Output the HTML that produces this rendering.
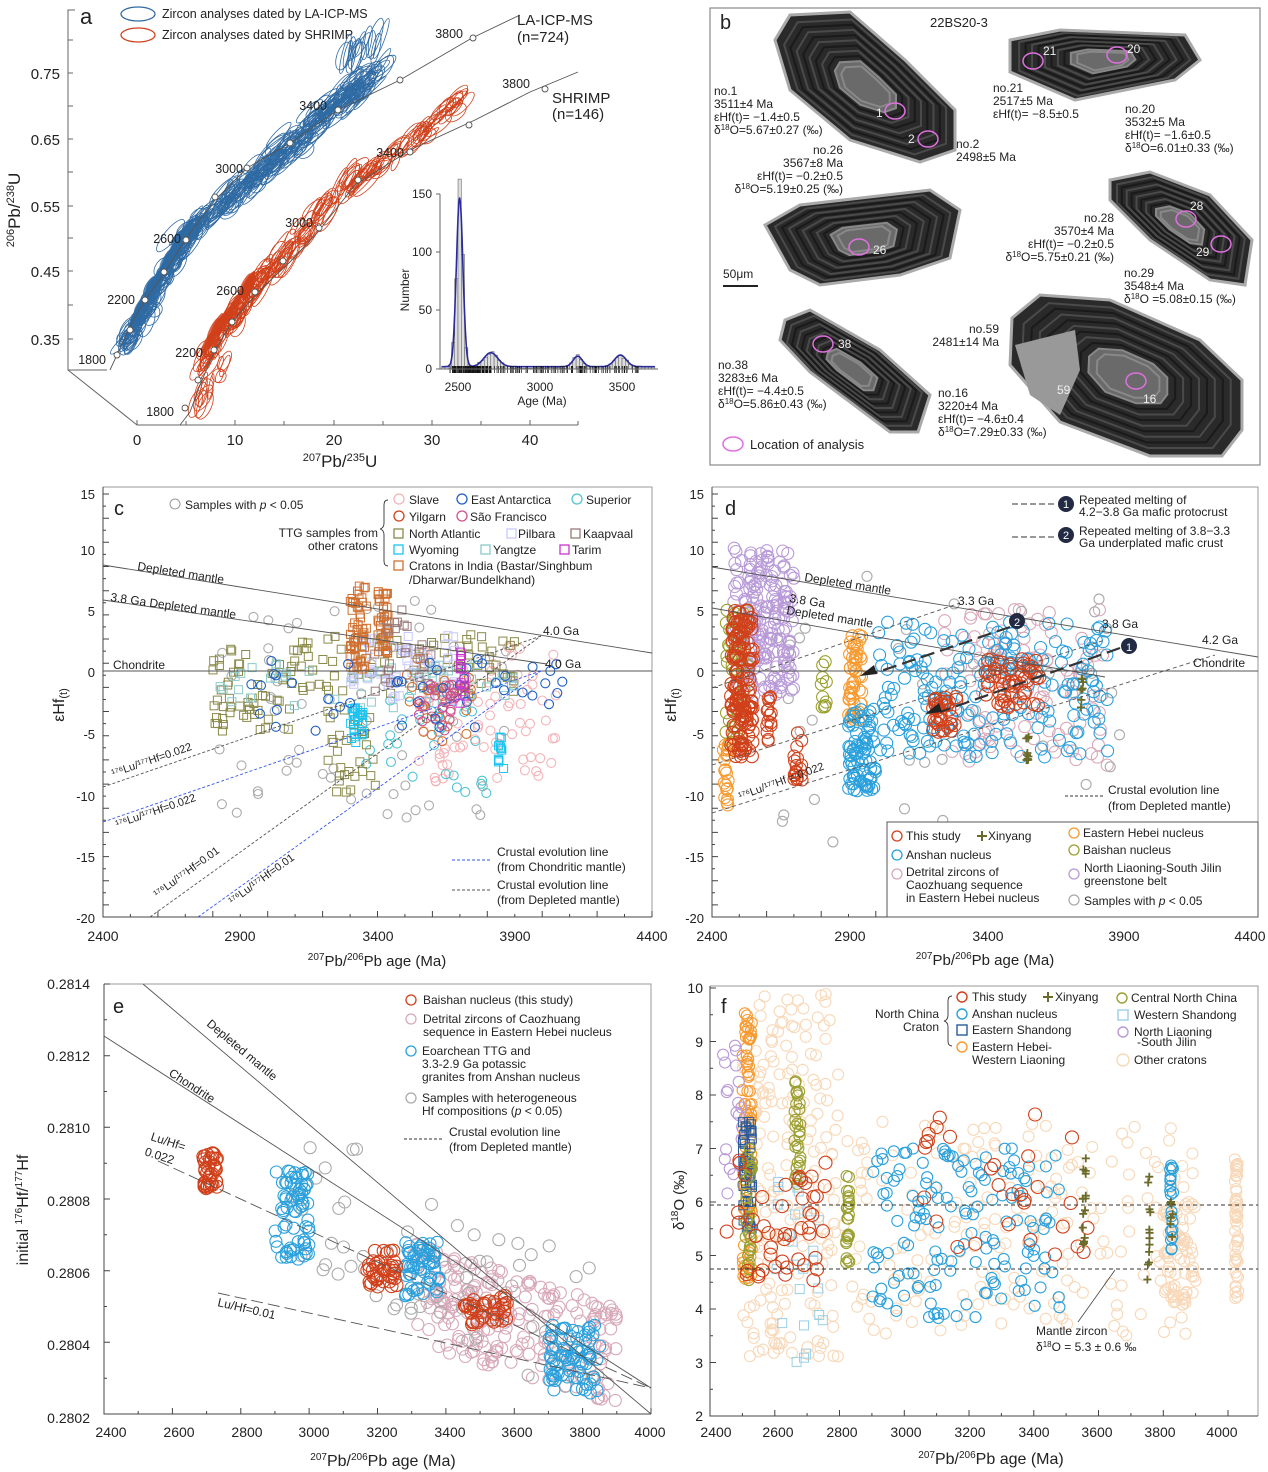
<!DOCTYPE html>
<html><head><meta charset="utf-8"><style>
html,body{margin:0;padding:0;background:#fff}
svg{display:block;font-family:"Liberation Sans",Arial,sans-serif}
</style></head><body>
<svg id="s" width="1268" height="1472" viewBox="0 0 1268 1472" xmlns="http://www.w3.org/2000/svg">
<g id="bg"></g>

<!-- ============ PANEL A ============ -->
<g fill="none" stroke="#666" stroke-width="1">
<path d="M75 10 H68 V370 H107 M68 370 L137 425 H578"/>
</g>
<g stroke="#666"><path d="M68 40h5M68 73h5M68 106h5M68 139h5M68 172h5M68 206h5M68 238h5M68 271h5M68 305h5M68 339h5M137 425v-5M186 425v-4M235 425v-5M284 425v-4M334 425v-5M383 425v-4M432 425v-5M481 425v-4M530 425v-5M578 425v-4"/></g>
<g font-size="15" fill="#222" text-anchor="end">
<text x="60" y="79">0.75</text><text x="60" y="145">0.65</text><text x="60" y="212">0.55</text><text x="60" y="277">0.45</text><text x="60" y="345">0.35</text></g>
<g font-size="15" fill="#222" text-anchor="middle">
<text x="137" y="445">0</text><text x="235" y="445">10</text><text x="334" y="445">20</text><text x="432" y="445">30</text><text x="530" y="445">40</text></g>
<text x="340" y="467" font-size="17" text-anchor="middle" fill="#222"><tspan font-size="11" dy="-6">207</tspan><tspan dy="6">Pb/</tspan><tspan font-size="11" dy="-6">235</tspan><tspan dy="6">U</tspan></text>
<text transform="translate(20 210) rotate(-90)" font-size="17" text-anchor="middle" fill="#222"><tspan font-size="11" dy="-6">206</tspan><tspan dy="6">Pb/</tspan><tspan font-size="11" dy="-6">238</tspan><tspan dy="6">U</tspan></text>
<text x="80" y="24" font-size="22" fill="#222">a</text>
<ellipse cx="138" cy="14" rx="17" ry="7" fill="none" stroke="#2f6aa3" stroke-width="1.3"/>
<ellipse cx="138" cy="35" rx="17" ry="7" fill="none" stroke="#d0401a" stroke-width="1.3"/>
<text x="162" y="18" font-size="12.5" fill="#222">Zircon analyses dated by LA-ICP-MS</text>
<text x="162" y="39" font-size="12.5" fill="#222">Zircon analyses dated by SHRIMP</text>
<g id="ga"></g>
<polyline fill="none" stroke="#555" stroke-width="0.9" points="110,370 117,355 128,330 145,300 165,272 185,240 215,200 247,168 290,143 338,110 400,80 472,38 520,15"/>
<polyline fill="none" stroke="#555" stroke-width="0.9" points="180,425 190,412 200,385 215,350 232,322 260,290 290,262 318,232 355,185 410,150 475,120 530,92 578,72"/>
<g fill="#fff" stroke="#555" stroke-width="0.9">
<circle cx="117" cy="355" r="3"/><circle cx="130" cy="330" r="3"/><circle cx="145" cy="300" r="3"/><circle cx="164" cy="272" r="3"/><circle cx="186" cy="240" r="3"/><circle cx="215" cy="197" r="3"/><circle cx="247" cy="168" r="3"/><circle cx="290" cy="143" r="3"/><circle cx="338" cy="110" r="3"/><circle cx="400" cy="80" r="3"/><circle cx="473" cy="38" r="3"/>
<circle cx="185" cy="408" r="3"/><circle cx="198" cy="380" r="3"/><circle cx="214" cy="350" r="3"/><circle cx="232" cy="322" r="3"/><circle cx="255" cy="292" r="3"/><circle cx="283" cy="261" r="3"/><circle cx="319" cy="228" r="3"/><circle cx="358" cy="180" r="3"/><circle cx="410" cy="152" r="3"/><circle cx="469" cy="125" r="3"/><circle cx="545" cy="89" r="3"/></g>
<g font-size="12.5" fill="#222" text-anchor="end">
<text x="106" y="364">1800</text><text x="135" y="304">2200</text><text x="181" y="243">2600</text><text x="243" y="173">3000</text><text x="327" y="110">3400</text><text x="463" y="38">3800</text>
<text x="174" y="416">1800</text><text x="203" y="357">2200</text><text x="244" y="295">2600</text><text x="313" y="227">3000</text><text x="404" y="157">3400</text><text x="530" y="88">3800</text></g>
<g font-size="15" fill="#222"><text x="517" y="25">LA-ICP-MS</text><text x="517" y="42">(n=724)</text><text x="552" y="103">SHRIMP</text><text x="552" y="119">(n=146)</text></g>
<!-- inset histogram -->
<g id="hist"></g>
<path d="M440 194 V369 H658" fill="none" stroke="#666"/>
<g stroke="#666"><path d="M440 194h-4M440 252h-4M440 310h-4M440 369h-4M458 369v4M540 369v4M622 369v4"/></g>
<g font-size="12" fill="#222" text-anchor="end"><text x="432" y="198">150</text><text x="432" y="256">100</text><text x="432" y="314">50</text><text x="432" y="373">0</text></g>
<g font-size="12" fill="#222" text-anchor="middle"><text x="458" y="391">2500</text><text x="540" y="391">3000</text><text x="622" y="391">3500</text><text x="542" y="405">Age (Ma)</text></g>
<text transform="translate(409 290) rotate(-90)" font-size="12" text-anchor="middle" fill="#222">Number</text>

<!-- ============ PANEL B ============ -->
<rect x="710" y="8" width="550" height="457" fill="#fff" stroke="#888" stroke-width="1.2"/>
<g id="zir"></g>
<g font-size="12" fill="#222">
<text x="720" y="29" font-size="20">b</text>
<text x="930" y="27" font-size="13">22BS20-3</text>
<text x="714" y="95">no.1</text><text x="714" y="108">3511±4 Ma</text><text x="714" y="121">εHf(t)= −1.4±0.5</text><text x="714" y="134">δ<tspan font-size="8" dy="-4">18</tspan><tspan dy="4">O=5.67±0.27 (‰)</tspan></text>
<text x="993" y="92">no.21</text><text x="993" y="105">2517±5 Ma</text><text x="993" y="118">εHf(t)= −8.5±0.5</text>
<text x="1125" y="113">no.20</text><text x="1125" y="126">3532±5 Ma</text><text x="1125" y="139">εHf(t)= −1.6±0.5</text><text x="1125" y="152">δ<tspan font-size="8" dy="-4">18</tspan><tspan dy="4">O=6.01±0.33 (‰)</tspan></text>
<text x="956" y="148">no.2</text><text x="956" y="161">2498±5 Ma</text>
<g text-anchor="end"><text x="843" y="154">no.26</text><text x="843" y="167">3567±8 Ma</text><text x="843" y="180">εHf(t)= −0.2±0.5</text><text x="843" y="193">δ<tspan font-size="8" dy="-4">18</tspan><tspan dy="4">O=5.19±0.25 (‰)</tspan></text>
<text x="1114" y="222">no.28</text><text x="1114" y="235">3570±4 Ma</text><text x="1114" y="248">εHf(t)= −0.2±0.5</text><text x="1114" y="261">δ<tspan font-size="8" dy="-4">18</tspan><tspan dy="4">O=5.75±0.21 (‰)</tspan></text>
<text x="999" y="333">no.59</text><text x="999" y="346">2481±14 Ma</text></g>
<text x="1124" y="277">no.29</text><text x="1124" y="290">3548±4 Ma</text><text x="1124" y="303">δ<tspan font-size="8" dy="-4">18</tspan><tspan dy="4">O =5.08±0.15 (‰)</tspan></text>
<text x="718" y="369">no.38</text><text x="718" y="382">3283±6 Ma</text><text x="718" y="395">εHf(t)= −4.4±0.5</text><text x="718" y="408">δ<tspan font-size="8" dy="-4">18</tspan><tspan dy="4">O=5.86±0.43 (‰)</tspan></text>
<text x="938" y="397">no.16</text><text x="938" y="410">3220±4 Ma</text><text x="938" y="423">εHf(t)= −4.6±0.4</text><text x="938" y="436">δ<tspan font-size="8" dy="-4">18</tspan><tspan dy="4">O=7.29±0.33 (‰)</tspan></text>
<text x="723" y="278">50μm</text>
<text x="750" y="449" font-size="13">Location of analysis</text>
</g>
<line x1="723" y1="286" x2="758" y2="286" stroke="#222" stroke-width="2"/>
<ellipse cx="733" cy="444" rx="10" ry="7" fill="none" stroke="#e070e0" stroke-width="1.5"/>

<!-- ============ PANELS C-F scatter layers ============ -->
<g id="gc"></g><g id="gd"></g><g id="ge"></g><g id="gf"></g>

<!-- frames -->
<g fill="none" stroke="#999" stroke-width="1"><path d="M103 487 H652 V917"/><path d="M712 487 H1258 V917"/><path d="M104 984 H651 V1414"/><path d="M710 986 H1258 V1416"/></g>
<g fill="none" stroke="#444" stroke-width="1"><path d="M103 487 V917 H652"/><path d="M712 487 V917 H1258"/><path d="M104 984 V1414 H651"/><path d="M710 986 V1416 H1258"/></g>
<g id="ticks" stroke="#444" stroke-width="1"></g>

<!-- panel C text/lines -->
<g fill="none" stroke="#555" stroke-width="0.9">
<line x1="103" y1="565" x2="652" y2="653"/><line x1="103" y1="600" x2="547" y2="664"/><line x1="103" y1="671" x2="652" y2="671"/>
<line x1="103" y1="787" x2="541" y2="636" stroke-dasharray="3 2"/><line x1="150" y1="917" x2="541" y2="636" stroke-dasharray="3 2"/>
<line x1="103" y1="822" x2="541" y2="671" stroke="#3355ee" stroke-dasharray="3 2"/><line x1="198" y1="917" x2="541" y2="671" stroke="#3355ee" stroke-dasharray="3 2"/></g>
<g font-size="13" fill="#222" text-anchor="end"><text x="95" y="499">15</text><text x="95" y="555">10</text><text x="95" y="616">5</text><text x="95" y="677">0</text><text x="95" y="739">-5</text><text x="95" y="801">-10</text><text x="95" y="862">-15</text><text x="95" y="923">-20</text></g>
<g font-size="14" fill="#222" text-anchor="middle"><text x="103" y="941">2400</text><text x="240" y="941">2900</text><text x="378" y="941">3400</text><text x="515" y="941">3900</text><text x="652" y="941">4400</text></g>
<text x="377" y="966" font-size="15" text-anchor="middle" fill="#222"><tspan font-size="10" dy="-6">207</tspan><tspan dy="6">Pb/</tspan><tspan font-size="10" dy="-6">206</tspan><tspan dy="6">Pb age (Ma)</tspan></text>
<text transform="translate(64 705) rotate(-90)" font-size="16" text-anchor="middle" fill="#222">εHf<tspan font-size="11" dy="3">(t)</tspan></text>
<g font-size="12" fill="#222">
<text x="114" y="515" font-size="20">c</text>
<circle cx="175" cy="504" r="5" fill="none" stroke="#999"/><text x="185" y="509">Samples with <tspan font-style="italic">p</tspan> &lt; 0.05</text>
<text x="378" y="537" text-anchor="end">TTG samples from</text><text x="378" y="550" text-anchor="end">other cratons</text>
<text x="409" y="504">Slave</text><text x="471" y="504">East Antarctica</text><text x="586" y="504">Superior</text>
<text x="409" y="521">Yilgarn</text><text x="470" y="521">São Francisco</text>
<text x="409" y="538">North Atlantic</text><text x="518" y="538">Pilbara</text><text x="583" y="538">Kaapvaal</text>
<text x="409" y="554">Wyoming</text><text x="493" y="554">Yangtze</text><text x="572" y="554">Tarim</text>
<text x="409" y="570">Cratons in India (Bastar/Singhbum</text><text x="409" y="584">/Dharwar/Bundelkhand)</text>
<text x="113" y="669">Chondrite</text><text x="543" y="635">4.0 Ga</text><text x="545" y="668">4.0 Ga</text>
<text x="137" y="570" transform="rotate(9 137 570)">Depleted mantle</text>
<text x="110" y="601" transform="rotate(8 110 601)">3.8 Ga Depleted mantle</text>
<text x="113" y="777" font-size="11" transform="rotate(-19 113 777)">¹⁷⁶Lu/¹⁷⁷Hf=0.022</text>
<text x="117" y="828" font-size="11" transform="rotate(-19 117 828)">¹⁷⁶Lu/¹⁷⁷Hf=0.022</text>
<text x="157" y="898" font-size="11" transform="rotate(-36 157 898)">¹⁷⁶Lu/¹⁷⁷Hf=0.01</text>
<text x="232" y="905" font-size="11" transform="rotate(-36 232 905)">¹⁷⁶Lu/¹⁷⁷Hf=0.01</text>
<text x="497" y="856">Crustal evolution line</text><text x="497" y="871">(from Chondritic mantle)</text>
<text x="497" y="889">Crustal evolution line</text><text x="497" y="904">(from Depleted mantle)</text>
</g>
<line x1="452" y1="860" x2="490" y2="860" stroke="#3355ee" stroke-dasharray="3 2"/><line x1="452" y1="890" x2="490" y2="890" stroke="#555" stroke-dasharray="3 2"/>
<path d="M388 500 q-4 0 -4 5 v18 q0 5 -4 6 q4 1 4 6 v26 q0 5 4 5" fill="none" stroke="#333" stroke-width="0.9"/>
<g fill="none" stroke-width="1.3">
<circle cx="399" cy="499" r="5" stroke="#f4b3b8"/><circle cx="462" cy="499" r="5" stroke="#1f5fc4"/><circle cx="577" cy="499" r="5" stroke="#4fc3d4"/>
<circle cx="399" cy="516" r="5" stroke="#d0401a"/><circle cx="462" cy="516" r="5" stroke="#d0508a"/>
<rect x="394" y="529" width="9" height="9" stroke="#8a8a4a"/><rect x="507" y="529" width="9" height="9" stroke="#c8c8ff"/><rect x="571" y="529" width="9" height="9" stroke="#9a7a7a"/>
<rect x="394" y="545" width="9" height="9" stroke="#1cc4f0"/><rect x="481" y="545" width="9" height="9" stroke="#8ccaca"/><rect x="560" y="545" width="9" height="9" stroke="#cc33cc"/>
<rect x="394" y="561" width="9" height="9" stroke="#d07030"/></g>

<!-- panel D text/lines -->
<g fill="none" stroke="#555" stroke-width="0.9">
<line x1="712" y1="567" x2="1258" y2="657"/><line x1="712" y1="608" x2="1105" y2="677"/><line x1="712" y1="671" x2="1258" y2="671"/>
<g stroke-dasharray="4 3"><line x1="712" y1="688" x2="960" y2="603"/><line x1="712" y1="765" x2="1105" y2="640"/><line x1="712" y1="813" x2="1215" y2="655"/></g>
<g stroke="#333" stroke-width="2.2" stroke-dasharray="14 6"><line x1="1120" y1="648" x2="940" y2="712"/><line x1="1010" y1="627" x2="875" y2="673"/></g></g>
<path d="M925 714 l14 -11 l3 9 z M860 676 l14 -11 l3 9 z" fill="#222"/>
<circle cx="1129" cy="646" r="8" fill="#222a44"/><text x="1129" y="651" font-size="11" fill="#fff" text-anchor="middle">1</text>
<circle cx="1017" cy="621" r="8" fill="#222a44"/><text x="1017" y="626" font-size="11" fill="#fff" text-anchor="middle">2</text>
<g font-size="13" fill="#222" text-anchor="end"><text x="704" y="499">15</text><text x="704" y="555">10</text><text x="704" y="616">5</text><text x="704" y="677">0</text><text x="704" y="739">-5</text><text x="704" y="801">-10</text><text x="704" y="862">-15</text><text x="704" y="923">-20</text></g>
<g font-size="14" fill="#222" text-anchor="middle"><text x="712" y="941">2400</text><text x="850" y="941">2900</text><text x="988" y="941">3400</text><text x="1124" y="941">3900</text><text x="1250" y="941">4400</text></g>
<text x="985" y="965" font-size="15" text-anchor="middle" fill="#222"><tspan font-size="10" dy="-6">207</tspan><tspan dy="6">Pb/</tspan><tspan font-size="10" dy="-6">206</tspan><tspan dy="6">Pb age (Ma)</tspan></text>
<text transform="translate(676 705) rotate(-90)" font-size="16" text-anchor="middle" fill="#222">εHf<tspan font-size="11" dy="3">(t)</tspan></text>
<g font-size="12" fill="#222">
<text x="725" y="515" font-size="20">d</text>
<line x1="1012" y1="504" x2="1055" y2="504" stroke="#333" stroke-dasharray="6 3"/><line x1="1012" y1="537" x2="1055" y2="537" stroke="#333" stroke-dasharray="6 3"/>
<circle cx="1066" cy="504" r="8" fill="#222a44"/><text x="1066" y="508" fill="#fff" text-anchor="middle" font-size="11">1</text>
<circle cx="1066" cy="535" r="8" fill="#222a44"/><text x="1066" y="539" fill="#fff" text-anchor="middle" font-size="11">2</text>
<text x="1079" y="504">Repeated melting of</text><text x="1079" y="516">4.2−3.8 Ga mafic protocrust</text>
<text x="1079" y="535">Repeated melting of 3.8−3.3</text><text x="1079" y="547">Ga underplated mafic crust</text>
<text x="804" y="581" transform="rotate(9 804 581)">Depleted mantle</text>
<text x="789" y="602" transform="rotate(9 789 602)">3.8 Ga</text><text x="786" y="614" transform="rotate(9 786 614)">Depleted mantle</text>
<text x="958" y="605">3.3 Ga</text><text x="1102" y="628">3.8 Ga</text><text x="1202" y="644">4.2 Ga</text><text x="1193" y="667">Chondrite</text>
<text x="740" y="800" font-size="11" transform="rotate(-20 740 800)">¹⁷⁶Lu/¹⁷⁷Hf = 0.022</text>
<line x1="1065" y1="796" x2="1103" y2="796" stroke="#333" stroke-dasharray="3 2"/>
<text x="1108" y="794">Crustal evolution line</text><text x="1108" y="810">(from Depleted mantle)</text>
</g>
<rect x="887" y="822" width="371" height="95" fill="#fff" stroke="#555"/>
<g font-size="12" fill="#222">
<text x="906" y="840">This study</text><text x="988" y="840">Xinyang</text><text x="1083" y="837">Eastern Hebei nucleus</text>
<text x="906" y="859">Anshan nucleus</text><text x="1083" y="854">Baishan nucleus</text>
<text x="906" y="876">Detrital zircons of</text><text x="906" y="889">Caozhuang sequence</text><text x="906" y="902">in Eastern Hebei nucleus</text>
<text x="1084" y="872">North Liaoning-South Jilin</text><text x="1084" y="885">greenstone belt</text><text x="1084" y="905">Samples with <tspan font-style="italic">p</tspan> &lt; 0.05</text></g>
<g fill="none" stroke-width="1.3"><circle cx="897" cy="836" r="5" stroke="#d0401a"/><circle cx="897" cy="855" r="5" stroke="#2aa0dc"/><circle cx="897" cy="874" r="5" stroke="#d8a8b8"/>
<circle cx="1074" cy="833" r="5" stroke="#f79a30"/><circle cx="1074" cy="850" r="5" stroke="#9aa030"/><circle cx="1074" cy="874" r="5" stroke="#b89ad8"/><circle cx="1074" cy="900" r="5" stroke="#aaa"/>
<path d="M977 836h10M982 831v10" stroke="#6a6a2a" stroke-width="2"/></g>

<!-- panel E -->
<g fill="none" stroke="#555" stroke-width="0.9">
<line x1="143" y1="984" x2="651" y2="1414"/><line x1="104" y1="1036" x2="651" y2="1388"/>
<line x1="158" y1="1161" x2="651" y2="1388" stroke-dasharray="12 5"/><line x1="218" y1="1293" x2="651" y2="1388" stroke-dasharray="12 5"/></g>
<g font-size="14" fill="#222" text-anchor="end"><text x="90" y="989">0.2814</text><text x="90" y="1061">0.2812</text><text x="90" y="1133">0.2810</text><text x="90" y="1206">0.2808</text><text x="90" y="1278">0.2806</text><text x="90" y="1350">0.2804</text><text x="90" y="1423">0.2802</text></g>
<g font-size="14" fill="#222" text-anchor="middle"><text x="111" y="1437">2400</text><text x="179" y="1437">2600</text><text x="247" y="1437">2800</text><text x="314" y="1437">3000</text><text x="382" y="1437">3200</text><text x="450" y="1437">3400</text><text x="517" y="1437">3600</text><text x="585" y="1437">3800</text><text x="650" y="1437">4000</text></g>
<text x="383" y="1466" font-size="16" text-anchor="middle" fill="#222"><tspan font-size="10" dy="-6">207</tspan><tspan dy="6">Pb/</tspan><tspan font-size="10" dy="-6">206</tspan><tspan dy="6">Pb age (Ma)</tspan></text>
<text transform="translate(28 1210) rotate(-90)" font-size="16" text-anchor="middle" fill="#222">initial <tspan font-size="10" dy="-6">176</tspan><tspan dy="6">Hf/</tspan><tspan font-size="10" dy="-6">177</tspan><tspan dy="6">Hf</tspan></text>
<g font-size="12" fill="#222">
<text x="113" y="1013" font-size="20">e</text>
<text x="206" y="1025" transform="rotate(40 206 1025)">Depleted mantle</text>
<text x="168" y="1075" transform="rotate(33 168 1075)">Chondrite</text>
<text x="150" y="1140" transform="rotate(18 150 1140)">Lu/Hf=</text><text x="144" y="1155" transform="rotate(18 144 1155)">0.022</text>
<text x="217" y="1306" transform="rotate(13 217 1306)">Lu/Hf=0.01</text>
<text x="423" y="1004">Baishan nucleus (this study)</text>
<text x="423" y="1023">Detrital zircons of Caozhuang</text><text x="423" y="1036">sequence in Eastern Hebei nucleus</text>
<text x="422" y="1055">Eoarchean TTG and</text><text x="422" y="1068">3.3-2.9 Ga potassic</text><text x="422" y="1081">granites from Anshan nucleus</text>
<text x="422" y="1102">Samples with heterogeneous</text><text x="422" y="1115">Hf compositions (<tspan font-style="italic">p</tspan> &lt; 0.05)</text>
<text x="449" y="1136">Crustal evolution line</text><text x="449" y="1151">(from Depleted mantle)</text></g>
<line x1="404" y1="1139" x2="443" y2="1139" stroke="#333" stroke-dasharray="3 2"/>
<g fill="none" stroke-width="1.3"><circle cx="411" cy="1000" r="5" stroke="#d0401a"/><circle cx="411" cy="1019" r="5" stroke="#d8a8b8"/><circle cx="411" cy="1051" r="5" stroke="#2aa0dc"/><circle cx="411" cy="1098" r="5" stroke="#aaa"/></g>

<!-- panel F -->
<g stroke="#333" stroke-dasharray="4 3" stroke-width="0.9"><line x1="710" y1="1205" x2="1258" y2="1205"/><line x1="710" y1="1269" x2="1258" y2="1269"/></g>
<line x1="1115" y1="1270" x2="1078" y2="1322" stroke="#444" stroke-width="0.8"/>
<g font-size="14" fill="#222" text-anchor="end"><text x="703" y="993">10</text><text x="703" y="1047">9</text><text x="703" y="1100">8</text><text x="703" y="1154">7</text><text x="703" y="1207">6</text><text x="703" y="1261">5</text><text x="703" y="1314">4</text><text x="703" y="1368">3</text><text x="703" y="1421">2</text></g>
<g font-size="14" fill="#222" text-anchor="middle"><text x="716" y="1437">2400</text><text x="778" y="1437">2600</text><text x="842" y="1437">2800</text><text x="906" y="1437">3000</text><text x="970" y="1437">3200</text><text x="1034" y="1437">3400</text><text x="1097" y="1437">3600</text><text x="1160" y="1437">3800</text><text x="1222" y="1437">4000</text></g>
<text x="991" y="1464" font-size="16" text-anchor="middle" fill="#222"><tspan font-size="10" dy="-6">207</tspan><tspan dy="6">Pb/</tspan><tspan font-size="10" dy="-6">206</tspan><tspan dy="6">Pb age (Ma)</tspan></text>
<text transform="translate(684 1200) rotate(-90)" font-size="15" text-anchor="middle" fill="#222">δ<tspan font-size="10" dy="-6">18</tspan><tspan dy="6">O (‰)</tspan></text>
<g font-size="12" fill="#222">
<text x="721" y="1013" font-size="20">f</text>
<text x="939" y="1018" text-anchor="end">North China</text><text x="939" y="1031" text-anchor="end">Craton</text>
<text x="972" y="1001">This study</text><text x="1055" y="1001">Xinyang</text><text x="1131" y="1002">Central North China</text>
<text x="972" y="1018">Anshan nucleus</text><text x="1134" y="1019">Western Shandong</text>
<text x="972" y="1034">Eastern Shandong</text><text x="1134" y="1036">North Liaoning</text><text x="1137" y="1046">-South Jilin</text>
<text x="972" y="1051">Eastern Hebei-</text><text x="972" y="1064">Western Liaoning</text><text x="1134" y="1064">Other cratons</text>
<text x="1036" y="1335">Mantle zircon</text><text x="1036" y="1351">δ<tspan font-size="8" dy="-4">18</tspan><tspan dy="4">O = 5.3 ± 0.6 ‰</tspan></text></g>
<path d="M952 996 q-4 0 -4 5 v14 q0 5 -4 6 q4 1 4 6 v14 q0 5 4 5" fill="none" stroke="#333" stroke-width="0.9"/>
<g fill="none" stroke-width="1.4"><circle cx="962" cy="997" r="5" stroke="#d0401a"/><circle cx="962" cy="1014" r="5" stroke="#2aa0dc"/><rect x="957" y="1025" width="10" height="10" stroke="#2a5a9a"/><circle cx="962" cy="1047" r="5" stroke="#f79a30"/>
<circle cx="1122" cy="998" r="5" stroke="#9aa030"/><rect x="1118" y="1010" width="10" height="10" stroke="#9ad0e8"/><circle cx="1123" cy="1032" r="5" stroke="#b89ad8"/><circle cx="1123" cy="1060" r="6" stroke="#f8d8b8"/>
<path d="M1043 997h10M1048 992v10" stroke="#6a6a2a" stroke-width="2"/></g>
</svg>
<script>
(function(){
var NS="http://www.w3.org/2000/svg";
var seed=12345;function R(){seed=(seed*16807)%2147483647;return (seed-1)/2147483646;}
function N(){return (R()+R()+R()-1.5)/0.866;}
function el(p,t,a){var e=document.createElementNS(NS,t);for(var k in a)e.setAttribute(k,a[k]);p.appendChild(e);return e;}
var $=function(i){return document.getElementById(i);};
var tk=$("ticks"),d="";
function tx(x0,x1,n,y){for(var i=0;i<=n;i++){var x=x0+(x1-x0)*i/n;d+="M"+x.toFixed(1)+" "+y+"v"+(i%2?-3:-6);}}
function ty(y0,y1,n,x){for(var i=0;i<=n;i++){var y=y0+(y1-y0)*i/n;d+="M"+x+" "+y.toFixed(1)+"h"+(i%2?3:6);}}
tx(103,652,20,917);ty(494,917,35,103);tx(712,1258,20,917);ty(494,917,35,712);
tx(104,651,16,1414);ty(984,1414,12,104);tx(710,1228,16,1416);ty(988,1416,16,710);
el(tk,"path",{d:d,fill:"none"});
// panel a ellipses
var ga=$("ga");
function ells(n,x0,y0,x1,y1,col,spread,rmin,rmax,ang){for(var i=0;i<n;i++){var t=R();var x=x0+(x1-x0)*t+N()*spread,y=y0+(y1-y0)*t+N()*spread*0.6;
el(ga,"ellipse",{cx:x.toFixed(1),cy:y.toFixed(1),rx:(rmin+R()*(rmax-rmin)).toFixed(1),ry:(2+R()*5).toFixed(1),transform:"rotate("+(ang+N()*12).toFixed(0)+" "+x.toFixed(1)+" "+y.toFixed(1)+")",fill:"none",stroke:col,"stroke-width":0.8});}}
for(var i=0;i<60;i++){var x=135+R()*50,y=320-(x-135)*1.75+N()*6;el(ga,"ellipse",{cx:x,cy:y,rx:9,ry:4,transform:"rotate(-58 "+x+" "+y+")",fill:"#2f6aa3",opacity:0.75});}
ells(140,125,345,195,225,"#2f6aa3",6,6,16,-58);
ells(70,180,240,250,180,"#2f6aa3",10,8,22,-50);
ells(160,245,185,375,70,"#2f6aa3",12,8,26,-45);
ells(15,340,60,380,40,"#2f6aa3",8,10,22,-75);
for(var i=0;i<25;i++){var x=205+R()*45,y=345-(x-205)*1.4+N()*6;el(ga,"ellipse",{cx:x,cy:y,rx:12,ry:3,transform:"rotate(-62 "+x+" "+y+")",fill:"#d0401a",opacity:0.8});}
ells(70,200,370,265,270,"#d0401a",6,8,18,-62);
ells(60,255,290,350,180,"#d0401a",10,8,22,-57);
ells(60,350,185,470,95,"#d0401a",8,8,20,-48);
ells(14,185,430,225,360,"#d0401a",6,6,16,-68);
// histogram
var h=$("hist");function ax(a){return 458+(a-2500)*0.164;}
function dens(a){return 145*Math.exp(-Math.pow((a-2510)/28,2))+12*Math.exp(-Math.pow((a-2700)/60,2))+9*Math.exp(-Math.pow((a-3230)/40,2))+10*Math.exp(-Math.pow((a-3490)/50,2))+2;}
for(var a=2400;a<3700;a+=20){var v=dens(a+10)*(0.85+R()*0.3);if(a>2800&&a<3150)v=R()<0.3?2:0.5;var hh=v*175/150;el(h,"rect",{x:ax(a),y:369-hh,width:3.3,height:hh,fill:"#ddd",stroke:"#555","stroke-width":0.5});}
var pts=[];for(var a=2400;a<=3700;a+=5)pts.push(ax(a).toFixed(1)+","+(369-dens(a)*175/150).toFixed(1));
el(h,"polyline",{points:pts.join(" "),fill:"none",stroke:"#2a2a9a","stroke-width":1.6});
for(var i=0;i<220;i++){var a=R()<0.6?2450+R()*250:2700+R()*900;el(h,"line",{x1:ax(a),x2:ax(a),y1:366,y2:373,stroke:"#111","stroke-width":0.7});}
// zircons
var z=$("zir");
var grains=[["790,15 850,12 905,60 955,110 955,150 920,162 850,140 790,90 775,40",[["895","111"],["928","139"]]],
["1010,40 1060,30 1185,35 1200,60 1175,80 1075,100 1010,72",[["1033","61"],["1117","55"]]],
["765,225 800,205 930,190 960,210 950,258 900,275 820,285 790,270",[["859","247"]]],
["1110,180 1150,172 1210,195 1252,240 1245,285 1210,280 1150,240 1110,200",[["1186","219"],["1221","244"]]],
["785,320 810,310 880,350 930,395 918,432 890,432 810,372 780,340",[["823","344"]]],
["1012,318 1040,295 1110,300 1200,340 1242,380 1242,430 1222,456 1150,456 1060,422 1010,365",[["1045","376"],["1136","381"]]]];
grains.forEach(function(g){var p=g[0].split(" ").map(function(s){return s.split(",").map(Number);});
var cx=0,cy=0;p.forEach(function(q){cx+=q[0];cy+=q[1];});cx/=p.length;cy/=p.length;
el(z,"polygon",{points:g[0],fill:"#2a2a2a",stroke:"#aaa","stroke-width":3});
for(var s=0.9;s>0.2;s-=0.07){el(z,"polygon",{points:p.map(function(q){return (cx+(q[0]-cx)*s).toFixed(1)+","+(cy+(q[1]-cy)*s).toFixed(1);}).join(" "),fill:s<0.35?"#6a6a6a":"none",stroke:s<0.35?"#888":(Math.round(s*14)%2?"#4a4a4a":"#1a1a1a"),"stroke-width":2});}
g[1].forEach(function(c){el(z,"ellipse",{cx:c[0],cy:c[1],rx:10,ry:8,fill:"none",stroke:"#e070e0","stroke-width":1.5});});});
el(z,"polygon",{points:"1015,345 1075,330 1080,370 1060,415 1030,395",fill:"#999"});
[["876,117","1"],["908,143","2"],["1043,55","21"],["1127,53","20"],["873,254","26"],["1190,210","28"],["1196,256","29"],["838,348","38"],["1057,394","59"],["1143,403","16"]].forEach(function(l){var q=l[0].split(",");var t=el(z,"text",{x:q[0],y:q[1],"font-size":12,fill:"#eee"});t.textContent=l[1];});
function sc(g,X,Y,n,a0,a1,v0,v1,col,shape,r,vm){for(var i=0;i<n;i++){var a=a0+(a1-a0)*R();var v=vm?vm(a):0;v+=v0+(v1-v0)*R();var x=X(a),y=Y(v);
if(shape=="c")el(g,"circle",{cx:x.toFixed(1),cy:y.toFixed(1),r:r,fill:"none",stroke:col,"stroke-width":1.1});
else if(shape=="s")el(g,"rect",{x:(x-r).toFixed(1),y:(y-r).toFixed(1),width:2*r,height:2*r,fill:"none",stroke:col,"stroke-width":1});
else el(g,"path",{d:"M"+(x-4).toFixed(1)+" "+y.toFixed(1)+"h8M"+x.toFixed(1)+" "+(y-4).toFixed(1)+"v8",stroke:col,"stroke-width":1.8});}}
// panel c
var gc=$("gc"),XC=function(a){return 103+(a-2400)*0.2745;},YE=function(e){return 671-e*12.3;};
sc(gc,XC,YE,70,2800,3900,-12,6,"#aaa","c",4.5);
sc(gc,XC,YE,80,3550,4050,-9,2,"#f4b3b8","c",4.5);
sc(gc,XC,YE,30,3350,3800,-10,-2,"#4fc3d4","c",4.5);
sc(gc,XC,YE,55,2800,3100,-5,2,"#8a8a4a","s",4);
sc(gc,XC,YE,30,3200,3420,-10,-3,"#8a8a4a","s",4);
sc(gc,XC,YE,80,3100,3900,-2,3,"#8a8a4a","s",4);
sc(gc,XC,YE,60,3300,3700,-3,3,"#c8c8ff","s",4);
sc(gc,XC,YE,50,2800,3900,-3,1,"#8ccaca","s",4);
sc(gc,XC,YE,55,3300,3360,0,7,"#d07030","s",4);sc(gc,XC,YE,40,3400,3440,1,7,"#d07030","s",4);
sc(gc,XC,YE,25,3380,3600,-2,5,"#9a7a7a","s",4);
sc(gc,XC,YE,25,3300,3350,-6,-3,"#1cc4f0","s",4);sc(gc,XC,YE,10,3840,3860,-8,-4,"#1cc4f0","s",4);
sc(gc,XC,YE,25,3500,3750,-6,1,"#d07030","c",4.5);
sc(gc,XC,YE,30,3550,3700,-5,-1,"#d0508a","c",4.5);
sc(gc,XC,YE,45,2900,4100,-5,1,"#1f5fc4","c",4.5);
sc(gc,XC,YE,14,3700,3720,-3,2,"#cc33cc","s",4);
// panel d
var gd=$("gd"),XD=function(a){return 712+(a-2400)*0.273;};
sc(gd,XD,YE,110,3250,3850,-8,5,"#d8a8b8","c",6);
sc(gd,XD,YE,40,2600,3900,-14,8,"#aaa","c",5);
sc(gd,XD,YE,200,2480,2700,-2,10,"#b89ad8","c",6);
sc(gd,XD,YE,50,2450,2530,-6,5,"#9aa030","c",6);sc(gd,XD,YE,10,2800,2820,-3,2,"#9aa030","c",6);
sc(gd,XD,YE,50,2900,2950,-4,3,"#f79a30","c",6);sc(gd,XD,YE,20,2440,2460,-11,-6,"#f79a30","c",6);
sc(gd,XD,YE,80,2900,3000,-10,-3,"#2aa0dc","c",6);
sc(gd,XD,YE,200,3000,3850,-7,4,"#2aa0dc","c",6);
sc(gd,XD,YE,150,2470,2550,-7,5,"#d0401a","c",6.5);
sc(gd,XD,YE,15,2600,2620,-6,-2,"#d0401a","c",6);sc(gd,XD,YE,18,2700,2730,-9,-5,"#d0401a","c",6);
sc(gd,XD,YE,35,3200,3300,-5,-2,"#d0401a","c",6.5);sc(gd,XD,YE,55,3400,3600,-3,1,"#d0401a","c",6.5);
sc(gd,XD,YE,10,3550,3560,-8,-5,"#6a6a2a","p",0);sc(gd,XD,YE,8,3750,3760,-4,0,"#6a6a2a","p",0);
// panel e
var ge=$("ge"),XE=function(a){return 104+(a-2400)*0.342;},YH=function(v){return 984+(0.2814-v)*430/0.0012;};
sc(ge,XE,YH,220,3300,3900,-0.00018,0.0001,"#d8a8b8","c",6,function(a){return 0.28085-(a-2400)*0.0000003;});
sc(ge,XE,YH,60,2900,3900,-0.0003,0.0001,"#aaa","c",6,function(a){return 0.2812-(a-2400)*0.00000048;});
sc(ge,XE,YH,70,2900,3000,0.28063,0.28088,"#2aa0dc","c",6);
sc(ge,XE,YH,60,3280,3380,0.28053,0.28068,"#2aa0dc","c",6);
sc(ge,XE,YH,80,3700,3850,0.28025,0.28045,"#2aa0dc","c",6);
sc(ge,XE,YH,40,2690,2730,0.28082,0.28093,"#d0401a","c",6.5);
sc(ge,XE,YH,40,3170,3260,0.28055,0.28066,"#d0401a","c",6.5);
sc(ge,XE,YH,40,3450,3580,0.28045,0.28053,"#d0401a","c",6.5);
// panel f
var gf=$("gf"),XF=function(a){return 710+(a-2400)*0.324;},YO=function(v){return 988+(10-v)*53.5;};
sc(gf,XF,YO,200,2500,2800,3,10,"#f8d8b8","c",5.5);sc(gf,XF,YO,200,2800,3900,3.5,7.5,"#f8d8b8","c",5.5);
sc(gf,XF,YO,50,4020,4030,4.2,6.8,"#f8d8b8","c",5.5);sc(gf,XF,YO,70,3800,3900,4,6,"#f8d8b8","c",5.5);
sc(gf,XF,YO,80,2500,2530,4.5,9.6,"#f79a30","c",5.5);
sc(gf,XF,YO,20,2440,2500,6,9,"#b89ad8","c",5.5);
sc(gf,XF,YO,50,2500,2530,5.5,7.5,"#2a5a9a","s",4.5);
sc(gf,XF,YO,25,2600,2750,3,6.5,"#9ad0e8","s",4.5);
sc(gf,XF,YO,30,2660,2680,6.3,8.3,"#9aa030","c",5.5);sc(gf,XF,YO,25,2820,2830,4.8,6.5,"#9aa030","c",5.5);sc(gf,XF,YO,30,2510,2530,4.5,7,"#9aa030","c",5.5);
sc(gf,XF,YO,150,2900,3480,3.8,7,"#2aa0dc","c",5.5);sc(gf,XF,YO,20,3820,3830,5,6.7,"#2aa0dc","c",5.5);
sc(gf,XF,YO,50,2450,2760,4.5,6.8,"#d0401a","c",6.5);sc(gf,XF,YO,30,3050,3580,5,7.8,"#d0401a","c",6.5);
sc(gf,XF,YO,14,3550,3560,5.2,7,"#6a6a2a","p",0);sc(gf,XF,YO,12,3750,3760,4.5,6.7,"#6a6a2a","p",0);sc(gf,XF,YO,8,3820,3830,5.3,6.3,"#6a6a2a","p",0);
})();
</script>
</body></html>
